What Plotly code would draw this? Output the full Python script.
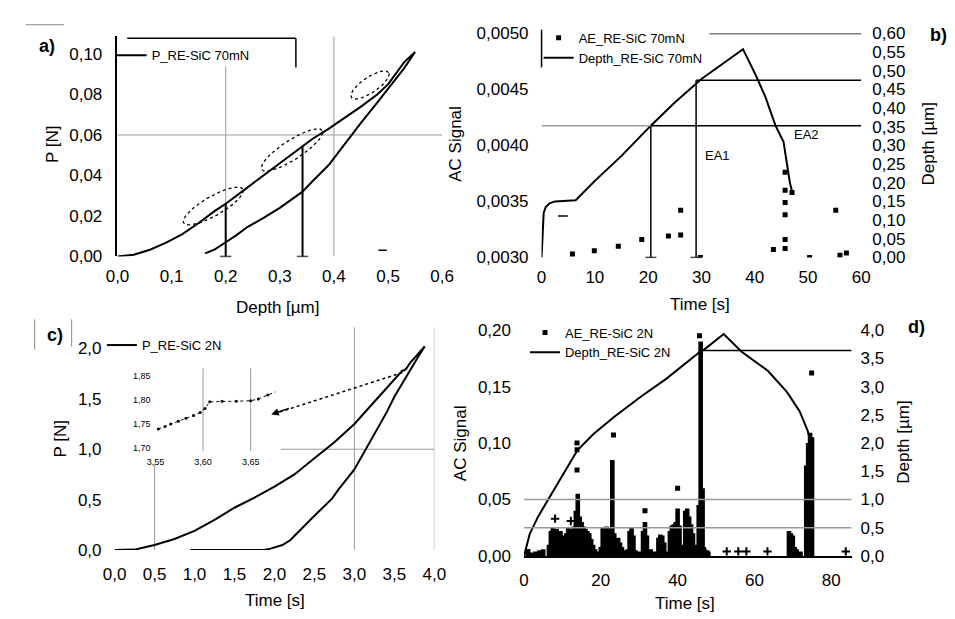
import numpy as np
import plotly.graph_objects as go

W, H = 955, 619
FONT = "Liberation Sans"

def px2x(p):
    return p / W

def py2y(p):
    return 1 - p / H

# ---------------- data: panel a) P vs depth (70 mN) ----------------
a_depth = [0.00, 0.03, 0.06, 0.09, 0.12, 0.15, 0.18, 0.20, 0.24, 0.27, 0.30, 0.342, 0.36, 0.39,
           0.42, 0.45, 0.48, 0.50, 0.53, 0.55,
           0.53, 0.51, 0.48, 0.45, 0.42, 0.39, 0.36, 0.342, 0.30, 0.27, 0.24, 0.22, 0.20, 0.18, 0.162]
a_load = [0.000, 0.0008, 0.0033, 0.0068, 0.011, 0.0165, 0.0225, 0.026, 0.034, 0.040, 0.046, 0.054, 0.058, 0.063,
          0.0685, 0.074, 0.080, 0.085, 0.096, 0.101,
          0.093, 0.086, 0.076, 0.066, 0.0555, 0.045, 0.037, 0.032, 0.024, 0.019, 0.0145, 0.0105, 0.007, 0.0035, 0.0015]
a_drop_depth = [0.20, 0.342]
a_drop_load = [0.026, 0.054]
a_ae_depth = [0.49]
a_ae_val = [0.003]
a_xgrid = [0.2, 0.4]
a_xgrid_top = [0.094, 0.1087]
a_ygrid = [0.06]
# dotted ellipses around pop-in zones: centre (depth, P), half-length px, half-width px, angle deg
a_ellipses = [(0.177, 0.0249, 35, 10, 30), (0.3225, 0.0526, 37, 10, 33), (0.4667, 0.0847, 23, 8, 34)]

# ---------------- data: panel b) AE and depth vs time (70 mN) ----------------
b_time = [0, 0.2, 0.4, 0.8, 1.5, 2.5, 6.4, 10, 15, 20.5, 25, 30, 34, 37.8, 40.2, 42, 43.9, 45.4, 46, 46.6, 47]
b_depth = [0, 0.06, 0.12, 0.135, 0.145, 0.15, 0.153, 0.205, 0.272, 0.353, 0.415, 0.478, 0.518, 0.558,
           0.488, 0.43, 0.353, 0.31, 0.255, 0.20, 0.177]
b_ae_time = [5.8, 9.9, 14.4, 18.8, 23.8, 26.1, 26.1, 29.8, 43.5, 45.7, 45.7, 45.7, 45.7, 45.7, 47.0, 45.7,
             50.3, 55.2, 56.0, 57.2]
b_ae_val = [0.00303, 0.00306, 0.00310, 0.00316, 0.00319, 0.00320, 0.00342, 0.00300, 0.00307, 0.00308,
            0.00316, 0.00338, 0.00349, 0.00360, 0.00358, 0.00376, 0.00300, 0.00342, 0.00302, 0.00304]
b_ae_dash_time = [4.0]
b_ae_dash_val = [0.00337]
b_drop_time = [20.5, 29.0]
b_drop_depth = [0.353, 0.475]
b_hlines = [(0.353, 20.5, 60, "black"), (0.353, 0, 20.5, "#9a9a9a"), (0.475, 29.0, 60, "black"), (0.60, 31.5, 60, "black")]
b_labels = [("EA1", 33.0, 0.272), ("EA2", 49.8, 0.33)]

# ---------------- data: panel c) P vs time (2 N) ----------------
c_time = [0.0, 0.25, 0.5, 0.75, 1.0, 1.25, 1.5, 1.75, 2.0, 2.25, 2.5, 2.75, 3.0, 3.25, 3.5, 3.58, 3.6, 3.62, 3.65, 3.7, 3.88,
          3.8, 3.68, 3.5, 3.41, 3.2, 3.0, 2.8, 2.72, 2.5, 2.35, 2.2, 2.1, 1.95, 1.85, 1.5, 0.95]
c_load = [0.0, 0.005, 0.05, 0.11, 0.19, 0.30, 0.42, 0.52, 0.63, 0.75, 0.91, 1.07, 1.25, 1.47, 1.70, 1.77, 1.78, 1.78, 1.80, 1.86, 2.02,
          1.92, 1.76, 1.52, 1.375, 1.08, 0.80, 0.60, 0.51, 0.34, 0.22, 0.10, 0.05, 0.015, 0.0, 0.0, 0.0]
c_inset_time = [3.553, 3.560, 3.566, 3.574, 3.582, 3.590, 3.597, 3.602, 3.607, 3.62, 3.635, 3.650, 3.658, 3.668, 3.678]
c_inset_load = [1.740, 1.745, 1.750, 1.756, 1.762, 1.768, 1.774, 1.782, 1.796, 1.797, 1.797, 1.798, 1.802, 1.810, 1.818]
c_ae_time = [3.6]
c_ae_val = [-0.03]

# ---------------- data: panel d) AE and depth vs time (2 N) ----------------
d_time = [0, 1.5, 3.7, 6.3, 9.7, 13.9, 18.1, 23.6, 30.4, 37.1, 42.2, 45.9, 47.0, 52.0, 56.6, 63.5, 68.5, 71.8,
          73.9, 74.9, 75.0, 75.1, 75.2]
d_depth = [0, 0.39, 0.70, 1.01, 1.39, 1.87, 2.16, 2.47, 2.82, 3.14, 3.42, 3.62, 3.66, 3.93, 3.62, 3.28, 2.90, 2.56,
           2.21, 1.94, 1.6, 0.6, 0.05]
d_bar_time = [1, 2, 3, 4, 5, 6.5, 7, 7.5, 8, 8.5, 9, 9.5, 10, 10.5, 11, 11.5, 12, 12.5, 13, 13.5, 14, 14.5, 15,
              15.5, 16, 16.5, 17, 17.5, 18, 18.5, 19, 20, 20.5, 21, 21.5, 22, 22.5, 23, 23.5, 24, 24.5, 25, 25.5,
              26, 27, 27.5, 28, 28.5, 29, 30, 31, 31.5, 32, 33, 34, 35, 35.5, 36, 36.5, 37, 38, 38.5, 39, 39.5,
              40, 40.5, 41, 42, 42.5, 43, 43.5, 44, 44.5, 45.5, 46, 46.5, 47, 47.5, 48,
              69, 69.5, 70, 70.5, 71, 72, 73.5, 74, 74.5, 75]
d_bar_val = [0.004, 0.003, 0.004, 0.005, 0.006, 0.010, 0.022, 0.025, 0.020, 0.024, 0.015, 0.022, 0.012, 0.018,
             0.020, 0.025, 0.022, 0.024, 0.026, 0.040, 0.055, 0.035, 0.030, 0.026, 0.024, 0.022, 0.020, 0.015,
             0.010, 0.006, 0.004, 0.008, 0.025, 0.024, 0.026, 0.025, 0.024, 0.085, 0.020, 0.015, 0.016, 0.012,
             0.008, 0.005, 0.006, 0.022, 0.025, 0.018, 0.005, 0.004, 0.022, 0.030, 0.018, 0.006, 0.004, 0.016,
             0.019, 0.018, 0.012, 0.004, 0.022, 0.027, 0.028, 0.030, 0.042, 0.027, 0.010, 0.040, 0.042, 0.035,
             0.028, 0.020, 0.010, 0.045, 0.190, 0.060, 0.006, 0.005, 0.004,
             0.022, 0.020, 0.018, 0.008, 0.006, 0.004, 0.080, 0.100, 0.109, 0.105]
d_ae_time = [1.0, 13.8, 13.8, 13.8, 23.3, 31.5, 40.0, 45.7, 74.9]
d_ae_val = [0.004, 0.100, 0.094, 0.076, 0.107, 0.040, 0.060, 0.195, 0.162]
d_cross_time = [8.1, 12.2, 47.2, 52.8, 55.8, 57.9, 63.4, 83.8]
d_cross_val = [0.033, 0.031, 0.004, 0.004, 0.004, 0.004, 0.004, 0.004]
d_hlines = [(1.0, 0, 85.3, "#9a9a9a"), (0.5, 0, 85.3, "#9a9a9a"), (3.64, 46.5, 85.3, "black")]

# ---------------- figure ----------------
fig = go.Figure()

# a)
fig.add_trace(go.Scatter(x=a_depth, y=a_load, mode="lines", line=dict(color="black", width=2),
                         name="P_RE-SiC 70mN", xaxis="x", yaxis="y", legend="legend"))
for (cx, cy, ra, rb, ang) in a_ellipses:
    t = np.linspace(0, 2 * np.pi, 60)
    th = np.deg2rad(ang)
    ex = ra * np.cos(t) * np.cos(th) - rb * np.sin(t) * np.sin(th)
    ey = ra * np.cos(t) * np.sin(th) + rb * np.sin(t) * np.cos(th)
    fig.add_trace(go.Scatter(x=cx + ex / 555.0, y=cy + ey / 2090.0, mode="lines",
                             line=dict(color="black", width=1.3, dash="dot"), showlegend=False,
                             xaxis="x", yaxis="y", hoverinfo="skip"))
for hx, hy in zip(a_drop_depth, a_drop_load):
    fig.add_trace(go.Scatter(x=[hx, hx], y=[hy, 0], mode="lines+markers",
                             line=dict(color="black", width=2),
                             marker=dict(symbol="line-ew-open", size=[0, 8], color="black",
                                         line=dict(width=1.5, color="black")),
                             showlegend=False, xaxis="x", yaxis="y", cliponaxis=False))
fig.add_trace(go.Scatter(x=a_ae_depth, y=a_ae_val, mode="markers",
                         marker=dict(symbol="line-ew-open", size=6, color="black", line=dict(width=1.5, color="black")),
                         showlegend=False, xaxis="x", yaxis="y"))

# b)
fig.add_trace(go.Scatter(x=b_ae_time, y=b_ae_val, mode="markers",
                         marker=dict(symbol="square", size=5, color="black"),
                         name="AE_RE-SiC 70mN", xaxis="x2", yaxis="y2", legend="legend2"))
fig.add_trace(go.Scatter(x=b_ae_dash_time, y=b_ae_dash_val, mode="markers",
                         marker=dict(symbol="line-ew-open", size=7, color="black", line=dict(width=1.5, color="black")),
                         showlegend=False, xaxis="x2", yaxis="y2"))
fig.add_trace(go.Scatter(x=b_time, y=b_depth, mode="lines", line=dict(color="black", width=2),
                         name="Depth_RE-SiC 70mN", xaxis="x2", yaxis="y3", legend="legend2"))
for tx, dd in zip(b_drop_time, b_drop_depth):
    fig.add_trace(go.Scatter(x=[tx, tx], y=[dd, 0], mode="lines+markers",
                             line=dict(color="black", width=1.5),
                             marker=dict(symbol="line-ew-open", size=[0, 8], color="black",
                                         line=dict(width=1.5, color="black")),
                             showlegend=False, xaxis="x2", yaxis="y3", cliponaxis=False))

# c)
fig.add_trace(go.Scatter(x=c_time, y=c_load, mode="lines", line=dict(color="black", width=2),
                         name="P_RE-SiC 2N", xaxis="x3", yaxis="y4", legend="legend3"))
fig.add_trace(go.Scatter(x=c_ae_time, y=c_ae_val, mode="markers",
                         marker=dict(symbol="line-ew-open", size=6, color="black", line=dict(width=1.5, color="black")),
                         showlegend=False, xaxis="x3", yaxis="y4", cliponaxis=False))
# arrow from main curve to inset (dotted)
fig.add_trace(go.Scatter(x=[3.6, 1.99], y=[1.76, 1.35], mode="lines",
                         line=dict(color="black", width=1.5, dash="dot"), showlegend=False,
                         xaxis="x3", yaxis="y4"))
# inset
fig.add_trace(go.Scatter(x=c_inset_time, y=c_inset_load, mode="lines+markers",
                         line=dict(color="black", width=1, dash="dot"),
                         marker=dict(size=3, color="black"), showlegend=False, xaxis="x4", yaxis="y5"))

# d)
fig.add_trace(go.Bar(x=d_bar_time, y=d_bar_val, width=1.2, marker=dict(color="black", line=dict(width=0)),
                     showlegend=False, xaxis="x5", yaxis="y6"))
fig.add_trace(go.Scatter(x=d_ae_time, y=d_ae_val, mode="markers",
                         marker=dict(symbol="square", size=5, color="black"),
                         name="AE_RE-SiC 2N", xaxis="x5", yaxis="y6", legend="legend4"))
fig.add_trace(go.Scatter(x=d_cross_time, y=d_cross_val, mode="markers",
                         marker=dict(symbol="cross-thin-open", size=6, color="black", line=dict(width=2, color="black")),
                         showlegend=False, xaxis="x5", yaxis="y6"))
fig.add_trace(go.Scatter(x=d_time, y=d_depth, mode="lines", line=dict(color="black", width=2),
                         name="Depth_RE-SiC 2N", xaxis="x5", yaxis="y7", legend="legend4"))

# ---------------- shapes (grid / guide lines) ----------------
shapes = []
GRAY = "#9a9a9a"
for gx, top in zip(a_xgrid, a_xgrid_top):
    shapes.append(dict(type="line", xref="x", yref="y", x0=gx, x1=gx, y0=0, y1=top, line=dict(color=GRAY, width=1), layer="below"))
for gy in a_ygrid:
    shapes.append(dict(type="line", xref="x", yref="y", x0=0, x1=0.6, y0=gy, y1=gy, line=dict(color=GRAY, width=1), layer="below"))
for (yy, x0, x1, col) in b_hlines:
    shapes.append(dict(type="line", xref="x2", yref="y3", x0=x0, x1=x1, y0=yy, y1=yy, line=dict(color=col, width=1.5)))
# legend border pieces
shapes.append(dict(type="line", xref="paper", yref="paper", x0=px2x(110), x1=px2x(283), y0=py2y(22), y1=py2y(22), line=dict(color="black", width=1.5)))
shapes.append(dict(type="line", xref="paper", yref="paper", x0=px2x(283), x1=px2x(283), y0=py2y(22), y1=py2y(52), line=dict(color="black", width=1.5)))
shapes.append(dict(type="line", xref="paper", yref="paper", x0=px2x(535), x1=px2x(535), y0=py2y(13), y1=py2y(52), line=dict(color="black", width=1.5)))
# c grid
shapes.append(dict(type="line", xref="x3", yref="y4", x0=0.5, x1=0.5, y0=0, y1=0.85, line=dict(color=GRAY, width=1), layer="below"))
shapes.append(dict(type="line", xref="x3", yref="y4", x0=3.0, x1=3.0, y0=0, y1=2.21, line=dict(color=GRAY, width=1), layer="below"))
shapes.append(dict(type="line", xref="x3", yref="y4", x0=4.0, x1=4.0, y0=0, y1=2.21, line=dict(color=GRAY, width=1), layer="below"))
shapes.append(dict(type="line", xref="x3", yref="y4", x0=2.08, x1=4.0, y0=1.0, y1=1.0, line=dict(color=GRAY, width=1), layer="below"))
for gx in [3.60, 3.65]:
    shapes.append(dict(type="line", xref="x4", yref="y5", x0=gx, x1=gx, y0=1.69, y1=1.865, line=dict(color=GRAY, width=1), layer="below"))
# d lines
for (yy, x0, x1, col) in d_hlines:
    shapes.append(dict(type="line", xref="x5", yref="y7", x0=x0, x1=x1, y0=yy, y1=yy, line=dict(color=col, width=1.5)))
# crop remnants
shapes.append(dict(type="line", xref="paper", yref="paper", x0=px2x(6), x1=px2x(45), y0=py2y(8), y1=py2y(8), line=dict(color="#888", width=1)))
shapes.append(dict(type="line", xref="paper", yref="paper", x0=px2x(15), x1=px2x(15), y0=py2y(312), y1=py2y(343), line=dict(color="#888", width=1)))
shapes.append(dict(type="line", xref="paper", yref="paper", x0=px2x(53), x1=px2x(53), y0=py2y(312), y1=py2y(340), line=dict(color="#888", width=1)))

# ---------------- annotations ----------------
anns = []
def ann(text, x, y, size=17, angle=0, bold=False):
    anns.append(dict(text=text, x=px2x(x), y=py2y(y), xref="paper", yref="paper", showarrow=False,
                     textangle=angle, xanchor="center", yanchor="middle",
                     font=dict(family=FONT, size=size, color="black", weight="bold" if bold else "normal")))

ann("Depth [µm]", 265, 300)
ann("P [N]", 34, 132, angle=-90)
ann("Time [s]", 698, 297)
ann("AC Signal", 447, 131, angle=-90)
ann("Depth [µm]", 932, 131, angle=-90)
ann("Time [s]", 262, 602)
ann("P [N]", 42, 435, angle=-90)
ann("Time [s]", 682, 605)
ann("AC Signal", 452, 440, angle=-90)
ann("Depth [µm]", 906, 438, angle=-90)
ann("a)", 28, 30, size=18, bold=True)
ann("b)", 942, 19, size=18, bold=True)
ann("c)", 36, 328, size=18, bold=True)
ann("d)", 920, 320, size=18, bold=True)
for (txt, tx, dd) in b_labels:
    anns.append(dict(text=txt, x=tx, y=dd, xref="x2", yref="y3", showarrow=False,
                     font=dict(family=FONT, size=13, color="black")))
# arrow head pointing to inset
anns.append(dict(x=1.96, y=1.345, xref="x3", yref="y4", ax=2.2, ay=1.41, axref="x3", ayref="y4",
                 showarrow=True, arrowhead=2, arrowsize=1, arrowwidth=1.5, arrowcolor="black", text=""))

# ---------------- axes ----------------
tickfont = dict(family=FONT, size=17, color="black")
common = dict(showgrid=False, zeroline=False, ticks="", tickfont=tickfont)

def dom_x(a, b):
    return [px2x(a), px2x(b)]

def dom_y(top, bottom):
    return [py2y(bottom), py2y(top)]

legend_font = dict(family=FONT, size=13, color="black")

fig.update_layout(
    width=W, height=H, margin=dict(l=0, r=0, t=0, b=0),
    paper_bgcolor="white", plot_bgcolor="white", separators=", ",
    font=dict(family=FONT, color="black"),
    showlegend=True, barmode="overlay",
    xaxis=dict(domain=dom_x(100, 433), range=[0, 0.6], dtick=0.1, tickformat=".1f", anchor="y",
               ticklabelstandoff=8, **common),
    yaxis=dict(domain=dom_y(20, 247), range=[0, 0.1087], tick0=0, dtick=0.02, tickformat=".2f", anchor="x",
               showline=True, linecolor="black", linewidth=1.5, ticklabelstandoff=10, **common),
    xaxis2=dict(domain=dom_x(535, 863), range=[0, 60], dtick=10, anchor="y2", ticklabelstandoff=8, **common),
    yaxis2=dict(domain=dom_y(17, 248), range=[0.003, 0.005], tick0=0.003, dtick=0.0005, tickformat=".4f",
                anchor="x2", ticklabelstandoff=12, **common),
    yaxis3=dict(range=[0, 0.6], tick0=0, dtick=0.05, tickformat=".2f", overlaying="y2", side="right",
                anchor="x2", ticklabelstandoff=10, **common),
    xaxis3=dict(domain=dom_x(97, 425), range=[0, 4], dtick=0.5, tickformat=".1f", anchor="y4",
                ticklabelstandoff=12, **common),
    yaxis4=dict(domain=dom_y(320, 550), range=[0, 2.21], tick0=0, dtick=0.5, tickformat=".1f", anchor="x3",
                ticklabelstandoff=12, **common),
    xaxis4=dict(domain=dom_x(138, 262), range=[3.549, 3.676], tickvals=[3.55, 3.60, 3.65], tickformat=".2f",
                anchor="y5", showgrid=False, zeroline=False, ticks="", ticklabelstandoff=4,
                tickfont=dict(family=FONT, size=9, color="black")),
    yaxis5=dict(domain=dom_y(360, 448), range=[1.694, 1.87], tickvals=[1.70, 1.75, 1.80, 1.85], tickformat=".2f",
                anchor="x4", showgrid=False, zeroline=False, ticks="", ticklabelstandoff=3,
                tickfont=dict(family=FONT, size=9, color="black")),
    xaxis5=dict(domain=dom_x(517, 853), range=[0, 85.3], tick0=0, dtick=20, anchor="y6",
                showline=True, linecolor="black", linewidth=1.5, ticklabelstandoff=8, **common),
    yaxis6=dict(domain=dom_y(318, 556), range=[0, 0.2043], tick0=0, dtick=0.05, tickformat=".2f", anchor="x5",
                ticklabelstandoff=12, **common),
    yaxis7=dict(range=[0, 4.086], tick0=0, dtick=0.5, tickformat=".1f", overlaying="y6", side="right",
                anchor="x5", ticklabelstandoff=8, **common),
    legend=dict(x=px2x(94), y=py2y(24), xanchor="left", yanchor="top", bgcolor="rgba(0,0,0,0)",
                font=legend_font, borderwidth=0),
    legend2=dict(x=px2x(532), y=py2y(6), xanchor="left", yanchor="top", bgcolor="rgba(0,0,0,0)",
                 font=legend_font, tracegroupgap=0, borderwidth=0),
    legend3=dict(x=px2x(84), y=py2y(323), xanchor="left", yanchor="top", bgcolor="rgba(0,0,0,0)",
                 font=legend_font, borderwidth=0),
    legend4=dict(x=px2x(518), y=py2y(310), xanchor="left", yanchor="top", bgcolor="rgba(0,0,0,0)",
                 font=legend_font, tracegroupgap=0, borderwidth=0),
    shapes=shapes, annotations=anns,
)

fig.write_html("out.html")
